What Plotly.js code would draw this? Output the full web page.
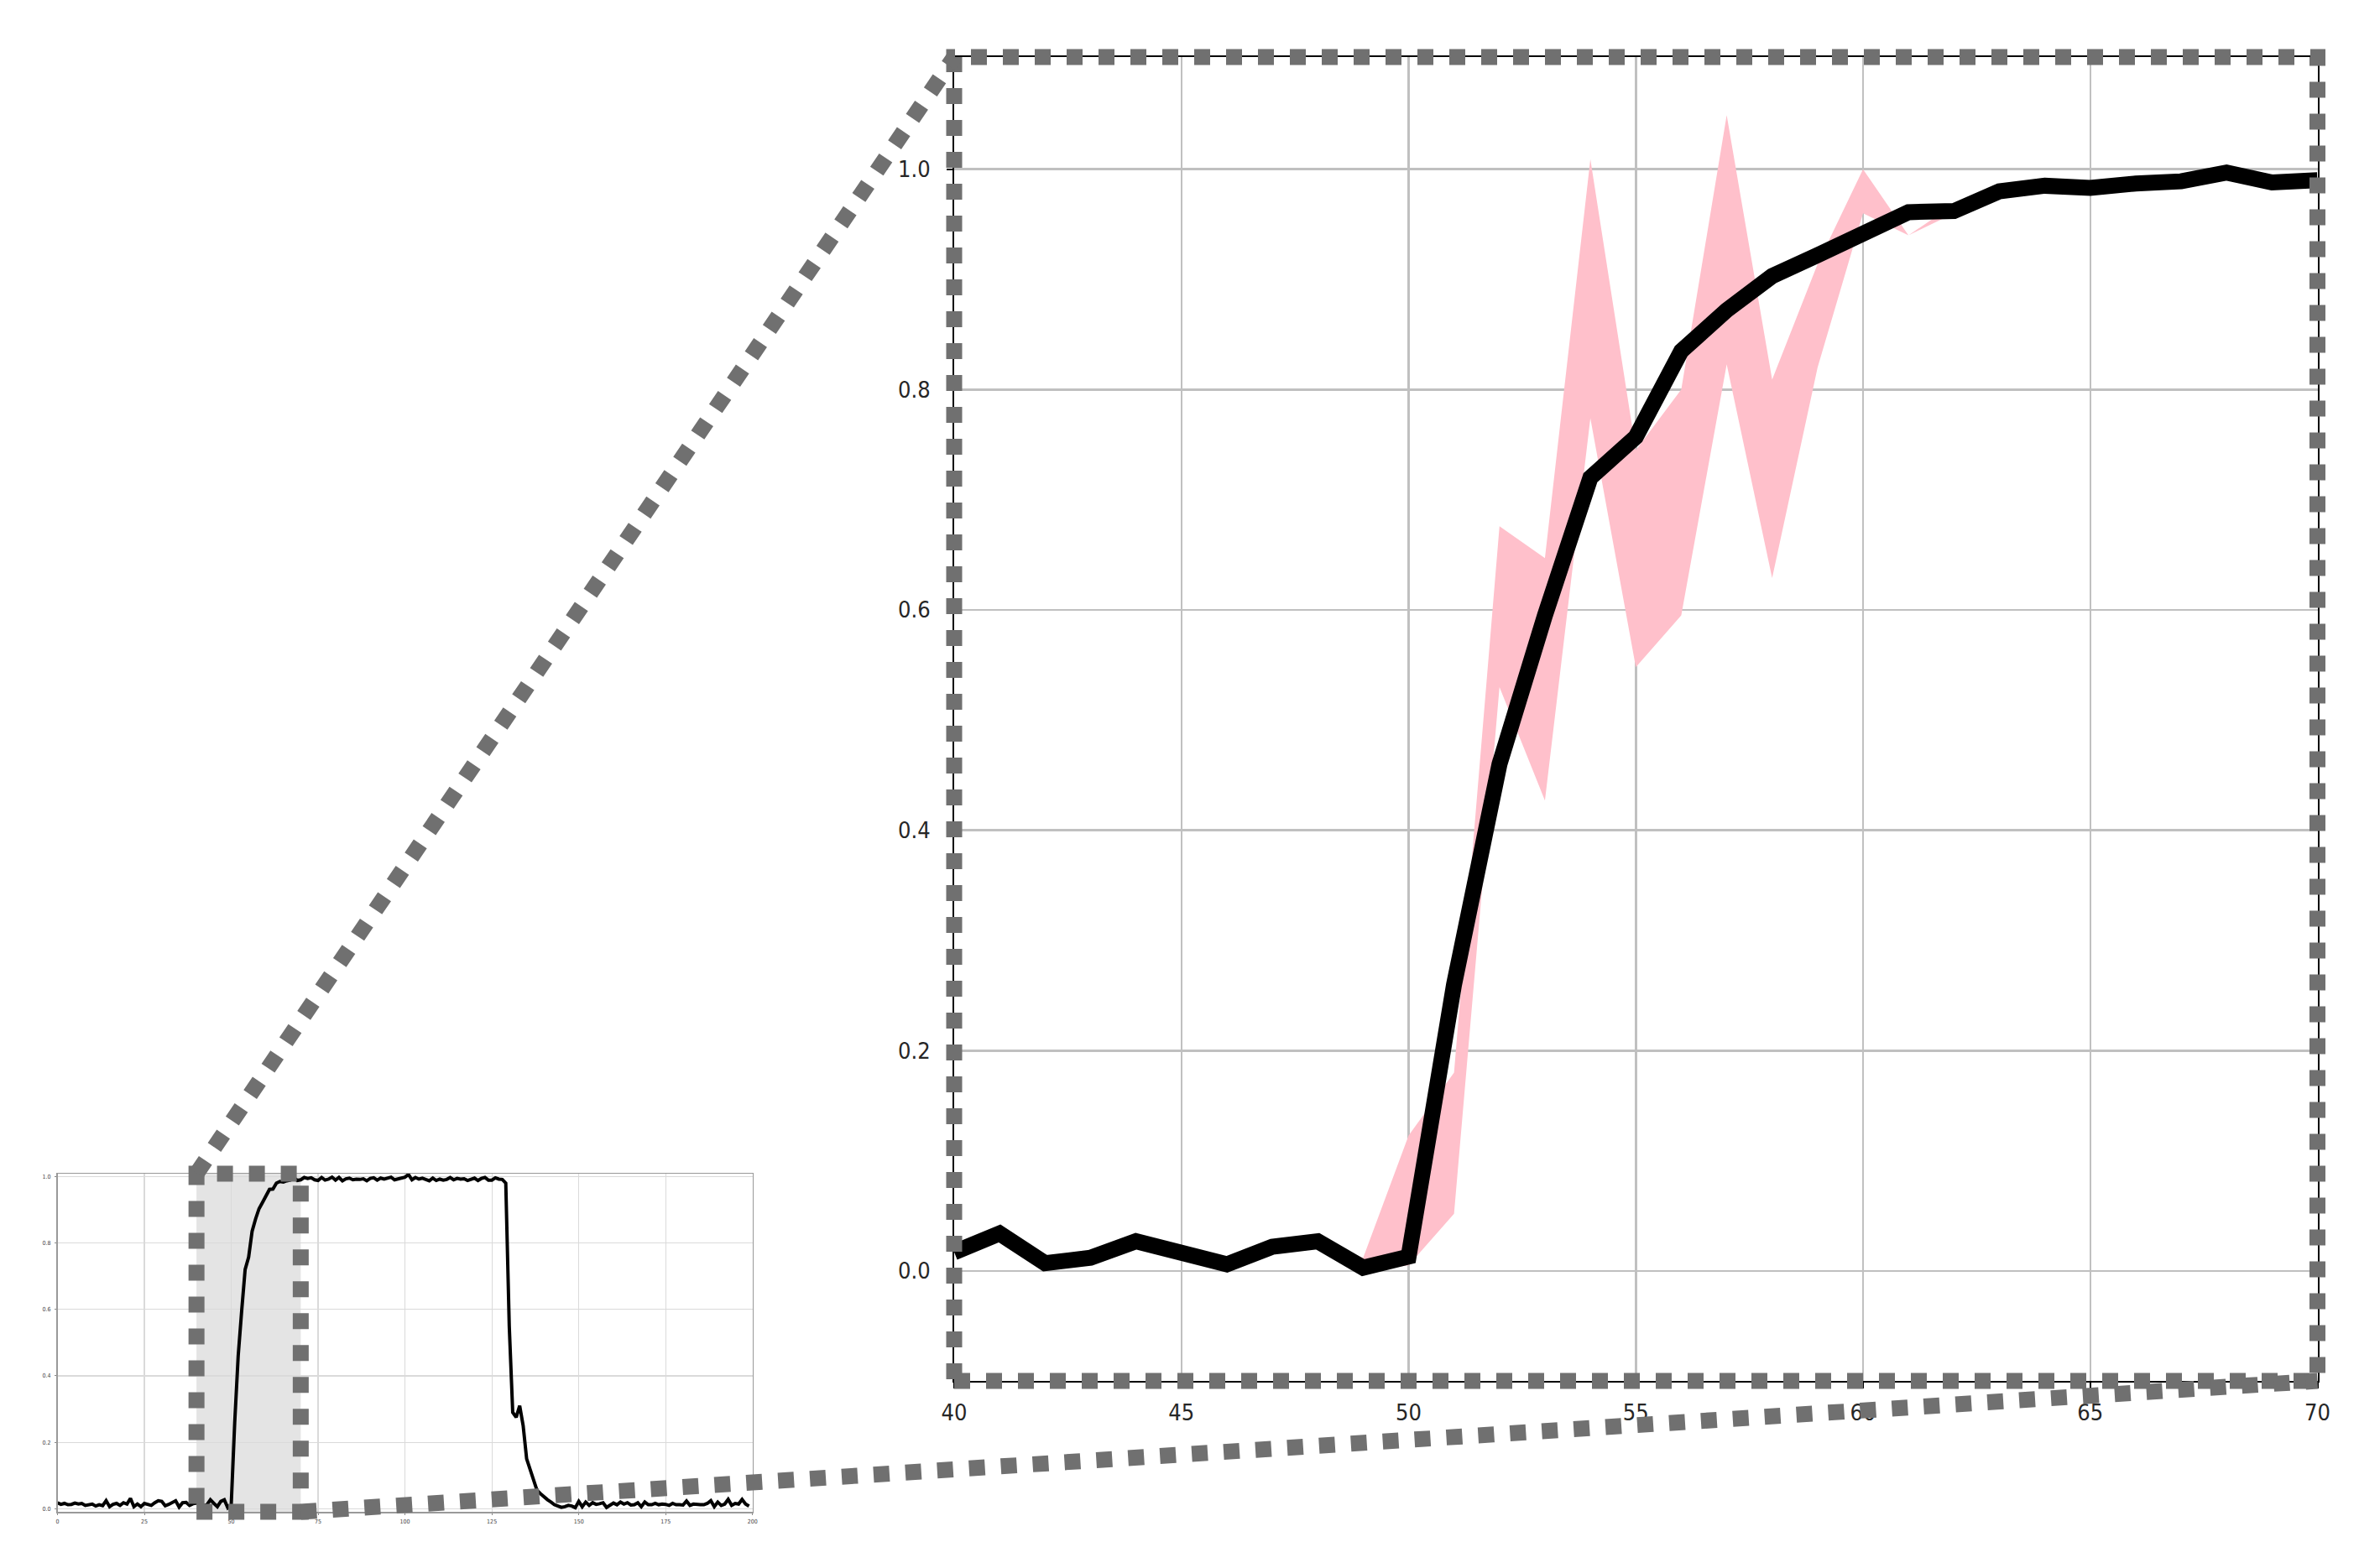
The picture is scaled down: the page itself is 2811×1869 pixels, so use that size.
<!DOCTYPE html>
<html><head><meta charset="utf-8">
<script src="https://cdn.plot.ly/plotly-3.0.1.min.js"></script>
<style>html,body{margin:0;padding:0;background:#fff;} #chart{width:2811px;height:1869px;}</style>
</head><body><div id="chart"></div>
<script>
// ---------- data ----------
const zoomX = [40,41,42,43,44,45,46,47,48,49,50,51,52,53,54,55,56,57,58,59,60,61,62,63,64,65,66,67,68,69,70];
const meanZoom = [0.017,0.034,0.007,0.012,0.027,0.016,0.006,0.022,0.027,0.003,
                  0.013,0.260,0.460,0.595,0.720,0.757,0.835,0.872,0.903,0.922,
                  0.942,0.961,0.962,0.980,0.985,0.983,0.987,0.989,0.997,0.988,0.990];
const bandLow  = [0.017,0.034,0.007,0.012,0.027,0.016,0.006,0.022,0.027,0.000,
                  0.005,0.052,0.530,0.427,0.774,0.548,0.595,0.823,0.629,0.820,
                  0.960,0.940,0.960,0.980,0.985,0.983,0.987,0.989,0.997,0.988,0.990];
const bandHigh = [0.017,0.034,0.007,0.012,0.027,0.016,0.006,0.022,0.027,0.012,
                  0.123,0.180,0.676,0.647,1.009,0.745,0.800,1.049,0.809,0.914,
                  1.000,0.940,0.968,0.980,0.985,0.983,0.987,0.989,0.997,0.988,0.990];
// overview curve, x = 0..39
const overviewHead = [0.018,0.013,0.016,0.012,0.013,0.017,0.014,0.016,0.010,0.013,
                      0.014,0.008,0.012,0.009,0.024,0.006,0.013,0.016,0.010,0.018,
                      0.014,0.031,0.006,0.014,0.006,0.016,0.012,0.010,0.018,0.024,
                      0.022,0.009,0.013,0.020,0.024,0.005,0.018,0.019,0.010,0.015];
// x = 71..128
const overviewPlateau = [0.997,0.994,0.996,0.990,0.988,0.997,0.989,0.992,0.998,0.989,
                         0.997,0.987,0.993,0.995,0.990,0.992,0.991,0.993,0.987,0.994,
                         0.996,0.989,0.995,0.992,0.994,0.998,0.990,0.992,0.996,0.998,
                         1.006,0.990,0.997,0.992,0.995,0.991,0.987,0.995,0.988,0.992,
                         0.989,0.991,0.997,0.990,0.994,0.992,0.993,0.988,0.992,0.995,
                         0.988,0.994,0.997,0.989,0.989,0.996,0.992,0.991];
// x = 129..145
const overviewDrop = [0.980,0.550,0.290,0.275,0.310,0.250,0.150,0.120,0.085,0.055,
                      0.045,0.035,0.027,0.020,0.012,0.008,0.004];
// x = 146..199
const overviewTail = [0.006,0.010,0.008,0.003,0.022,0.006,0.020,0.010,0.018,0.013,
                      0.015,0.018,0.004,0.010,0.017,0.012,0.020,0.014,0.018,0.011,
                      0.012,0.018,0.006,0.020,0.012,0.012,0.016,0.012,0.014,0.013,
                      0.010,0.016,0.012,0.012,0.011,0.023,0.010,0.014,0.012,0.012,
                      0.012,0.016,0.024,0.006,0.020,0.010,0.014,0.028,0.010,0.016,
                      0.014,0.028,0.014,0.008];
const mainXTicks = [40,45,50,55,60,65,70];
const mainYTicks = [0,0.2,0.4,0.6,0.8,1.0];
const insetXTicks = [0,25,50,75,100,125,150,175,200];
const insetYTicks = [0,0.2,0.4,0.6,0.8,1.0];

// ---------- build ----------
const overviewY = overviewHead.concat(meanZoom, overviewPlateau, overviewDrop, overviewTail);
const overviewX = overviewY.map((_, i) => i);

const W = 2811, H = 1869;
const mainDomX = [1137/W, 2761.5/W], mainDomY = [1-1646/H, 1-68/H];
const insetDomX = [68.5/W, 896.7/W], insetDomY = [1-1802/H, 1-1399/H];
const mainRangeX = [40,70], mainRangeY = [-0.0998,1.1018];
const insetRangeX = [0,200], insetRangeY = [-0.0093,1.0083];

function insetPX(v){ return insetDomX[0] + (v-insetRangeX[0])/(insetRangeX[1]-insetRangeX[0])*(insetDomX[1]-insetDomX[0]); }

const dotLine = {color:'#707070', width:19, dash:'dot'};
const tickFont = {family:'"DejaVu Sans Condensed","DejaVu Sans",sans-serif', size:27, color:'#262626'};
const smallFont = {family:'"DejaVu Sans Condensed","DejaVu Sans",sans-serif', size:7, color:'#444'};

const traces = [
  {x: zoomX, y: bandLow, xaxis:'x', yaxis:'y', mode:'lines', line:{width:0, color:'#ffc0cb'}, hoverinfo:'skip', showlegend:false},
  {x: zoomX, y: bandHigh, xaxis:'x', yaxis:'y', mode:'lines', fill:'tonexty', fillcolor:'#ffc0cb', line:{width:0, color:'#ffc0cb'}, hoverinfo:'skip', showlegend:false},
  {x: zoomX, y: meanZoom, xaxis:'x', yaxis:'y', mode:'lines', line:{width:19, color:'#000'}, showlegend:false},
  {x: overviewX, y: overviewY, xaxis:'x2', yaxis:'y2', mode:'lines', line:{width:4, color:'#000'}, showlegend:false}
];

const mainAxisCommon = {
  ticks:'outside', ticklen:7, tickwidth:2, tickcolor:'#000',
  showline:true, linecolor:'#000', linewidth:2, mirror:true,
  showgrid:true, gridcolor:'#c0c0c0', gridwidth:2.5, zeroline:false,
  tickfont: tickFont, fixedrange:true
};
const insetAxisCommon = {
  ticks:'outside', ticklen:2, tickwidth:1, tickcolor:'#888',
  showline:true, linecolor:'#999', linewidth:1.5, mirror:true,
  showgrid:true, gridcolor:'#dadada', gridwidth:1.2, zeroline:false,
  tickfont: smallFont, fixedrange:true
};

const layout = {
  width: W, height: H, autosize:false,
  margin:{l:0,r:0,t:0,b:0,pad:0},
  paper_bgcolor:'#ffffff', plot_bgcolor:'rgba(0,0,0,0)',
  showlegend:false,
  xaxis: Object.assign({}, mainAxisCommon, {domain: mainDomX, range: mainRangeX, anchor:'y', tickmode:'array', tickvals: mainXTicks, ticktext: mainXTicks.map(String), ticklabelstandoff: 6}),
  yaxis: Object.assign({}, mainAxisCommon, {domain: mainDomY, range: mainRangeY, anchor:'x', tickmode:'array', tickvals: mainYTicks, ticktext: mainYTicks.map(v=>v.toFixed(1)), ticklabelstandoff: 14}),
  xaxis2: Object.assign({}, insetAxisCommon, {domain: insetDomX, range: insetRangeX, anchor:'y2', tickmode:'array', tickvals: insetXTicks, ticktext: insetXTicks.map(String), ticklabelstandoff: 2}),
  yaxis2: Object.assign({}, insetAxisCommon, {domain: insetDomY, range: insetRangeY, anchor:'x2', tickmode:'array', tickvals: insetYTicks, ticktext: insetYTicks.map(v=>v.toFixed(1)), ticklabelstandoff: 3}),
  shapes: [
    {type:'rect', xref:'x2', yref:'y2', x0:mainRangeX[0], x1:mainRangeX[1], y0:insetRangeY[0], y1:insetRangeY[1], fillcolor:'#e4e4e4', line:{width:0}, layer:'below'},
    {type:'rect', xref:'paper', yref:'paper', x0:insetPX(mainRangeX[0]), x1:insetPX(mainRangeX[1]), y0:insetDomY[0], y1:insetDomY[1], line:dotLine, layer:'above'},
    {type:'rect', xref:'paper', yref:'paper', x0:mainDomX[0], x1:mainDomX[1], y0:mainDomY[0], y1:mainDomY[1], line:dotLine, layer:'above'},
    {type:'line', xref:'paper', yref:'paper', x0:insetPX(mainRangeX[0]), y0:insetDomY[1], x1:mainDomX[0], y1:mainDomY[1], line:dotLine, layer:'above'},
    {type:'line', xref:'paper', yref:'paper', x0:insetPX(mainRangeX[1]), y0:insetDomY[0], x1:mainDomX[1], y1:mainDomY[0], line:dotLine, layer:'above'}
  ]
};

Plotly.newPlot('chart', traces, layout, {staticPlot:true, displayModeBar:false});
</script>
</body></html>
